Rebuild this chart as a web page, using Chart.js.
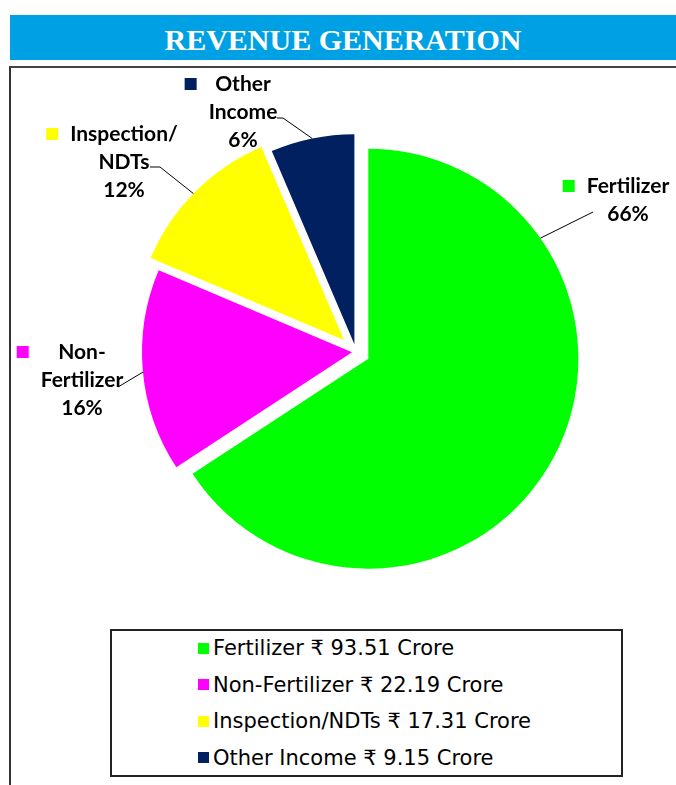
<!DOCTYPE html>
<html>
<head>
<meta charset="utf-8">
<title>Revenue Generation</title>
<script src="https://cdn.jsdelivr.net/npm/chart.js@4.4.1/dist/chart.umd.min.js"></script>
<style>
    body { margin: 0; width: 676px; height: 785px; background: #fff; position: relative; overflow: hidden; }
    #title {
        position: absolute; left: 10px; top: 15px; width: 666px; height: 43px; padding-top: 2px;
        background: #00a1e4; color: #fff; text-align: center;
        font: bold 30px 'Liberation Serif', serif; line-height: 45px;
    }
    #frame {
        position: absolute; left: 9px; top: 66px; width: 700px; height: 760px;
        border-left: 2px solid #333; border-top: 2px solid #444;
    }
    #wrap { position: absolute; left: 0; top: 66px; width: 676px; height: 560px; }
    #legend {
        position: absolute; left: 110px; top: 629px; width: 509px; height: 144px;
        border: 2px solid #222; background: #fff;
        font: 21px 'DejaVu Sans', sans-serif; color: #000;
    }
    #legend .row { height: 36.5px; display: flex; align-items: center; }
    #legend .row:first-child { margin-top: -1px; }
    #legend .key { width: 11px; height: 11px; margin-left: 86px; margin-right: 4px; flex: none; }
</style>
</head>
<body>
<div id="title">REVENUE GENERATION</div>
<div id="frame"></div>
<div id="wrap"><canvas id="pie" width="676" height="560"></canvas></div>
<div id="legend"></div>

<script>
// Revenue split, values in Crore
const categories = ['Fertilizer', 'Non-Fertilizer', 'Inspection/NDTs', 'Other Income'];
const revenueCrore = [93.51, 22.19, 17.31, 9.15];
const labelLines = [['Fertilizer'], ['Non-', 'Fertilizer'], ['Inspection/', 'NDTs'], ['Other', 'Income']];
const sliceColors = ['#00ff00', '#ff00ff', '#ffff00', '#002060'];

// Explosion of each slice (px) and label placement relative to pie centre
const explode = [14, 4, 17, 8];
const labelPlacement = [
    { x: 272, y: -166, leader: [[237, -140]], arcAngle: -35 },
    { x: -274, y: 0, leader: [[-238, 35]], arcAngle: 174.6 },
    { x: -232, y: -218, leader: [[-206, -185], [-196, -185]], arcAngle: -135.8 },
    { x: -113, y: -268, leader: [[-79, -234], [-73, -234]], arcAngle: -101.6 }
];

const total = revenueCrore.reduce((a, b) => a + b, 0);

// Build the boxed legend under the chart
const legendEl = document.getElementById('legend');
categories.forEach((name, i) => {
    const row = document.createElement('div');
    row.className = 'row';
    row.innerHTML = `<span class="key" style="background:${sliceColors[i]}"></span>` +
        `<span>${name} \u20B9 ${revenueCrore[i]} Crore</span>`;
    legendEl.appendChild(row);
});

// Push each slice out along its mid angle
const explodePlugin = {
    id: 'explode',
    afterDatasetsUpdate(chart) {
        chart.getDatasetMeta(0).data.forEach((arc, i) => {
            const mid = (arc.startAngle + arc.endAngle) / 2;
            arc.x += Math.cos(mid) * explode[i];
            arc.y += Math.sin(mid) * explode[i];
        });
    }
};

// Outside labels with legend key and leader lines
const sliceLabels = {
    id: 'sliceLabels',
    afterDatasetsDraw(chart) {
        const ctx = chart.ctx;
        const area = chart.chartArea;
        const cx = (area.left + area.right) / 2;
        const cy = (area.top + area.bottom) / 2;
        const arcs = chart.getDatasetMeta(0).data;
        const lineGap = 28;
        ctx.save();
        ctx.font = "bold 21px Lato, 'Liberation Sans', sans-serif";
        ctx.textAlign = 'center';
        ctx.textBaseline = 'alphabetic';
        arcs.forEach((arc, i) => {
            const p = labelPlacement[i];
            const lines = labelLines[i].concat([Math.round(revenueCrore[i] / total * 100) + '%']);
            const bx = cx + p.x;
            const by = cy + p.y;
            const widest = Math.max(...lines.map(l => ctx.measureText(l).width));

            // leader line
            const a = p.arcAngle * Math.PI / 180;
            ctx.strokeStyle = '#000';
            ctx.lineWidth = 1;
            ctx.beginPath();
            p.leader.forEach((pt, k) => {
                if (k === 0) ctx.moveTo(cx + pt[0], cy + pt[1]);
                else ctx.lineTo(cx + pt[0], cy + pt[1]);
            });
            ctx.lineTo(arc.x + Math.cos(a) * arc.outerRadius, arc.y + Math.sin(a) * arc.outerRadius);
            ctx.stroke();

            // key square
            ctx.fillStyle = sliceColors[i];
            ctx.fillRect(bx - widest / 2 - 12 - 12, by - 6, 12, 12);

            ctx.fillStyle = '#000';
            lines.forEach((l, k) => ctx.fillText(l, bx, by + 7 + k * lineGap));
        });
        ctx.restore();
    }
};

new Chart(document.getElementById('pie'), {
    type: 'pie',
    data: {
        labels: categories,
        datasets: [{
            data: revenueCrore,
            backgroundColor: sliceColors,
            borderWidth: 0
        }]
    },
    options: {
        responsive: false,
        animation: false,
        radius: 210,
        layout: { padding: { left: 36, right: 0, top: 12, bottom: 0 } },
        plugins: {
            legend: { display: false },
            title: { display: false },
            tooltip: { enabled: false }
        }
    },
    plugins: [explodePlugin, sliceLabels]
});
</script>
</body>
</html>
